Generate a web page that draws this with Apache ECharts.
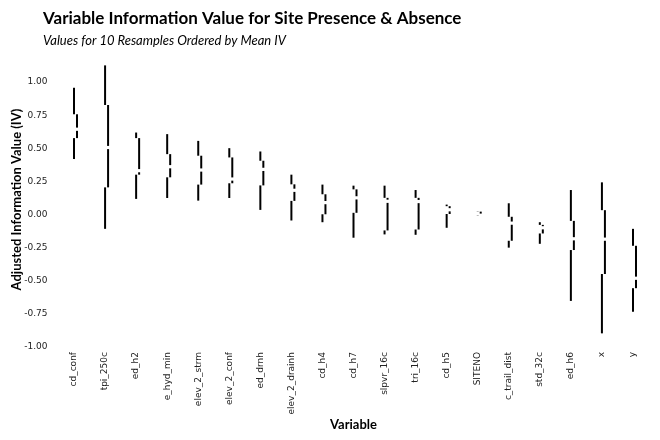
<!DOCTYPE html>
<html>
<head>
<meta charset="utf-8">
<script src="https://cdn.jsdelivr.net/npm/echarts@6/dist/echarts.min.js"></script>
<style>
  html, body { margin: 0; padding: 0; background: #fff; }
  #chart { width: 660px; height: 440px; }
</style>
</head>
<body>
<div id="chart"></div>
<script>
// variables ordered by mean IV
var variables = ['cd_conf', 'tpi_250c', 'ed_h2', 'e_hyd_min', 'elev_2_strm', 'elev_2_conf', 'ed_drnh',
  'elev_2_drainh', 'cd_h4', 'cd_h7', 'slpvr_16c', 'tri_16c', 'cd_h5', 'SITENO', 'c_trail_dist',
  'std_32c', 'ed_h6', 'x', 'y'];
// five number summary of the 10 resamples
var ivMin    = [0.419, -0.108, 0.118, 0.125, 0.105, 0.125, 0.035, -0.045, -0.058, -0.175, -0.150, -0.153, -0.100, -0.009, -0.250, -0.221, -0.652, -0.897, -0.734];
var ivQ1     = [0.577, 0.205, 0.301, 0.281, 0.226, 0.236, 0.220, 0.103, 0.002, 0.013, -0.120, -0.113, 0.004, -0.007, -0.198, -0.143, -0.268, -0.449, -0.556];
var ivMedian = [0.644, 0.506, 0.331, 0.361, 0.336, 0.268, 0.341, 0.183, 0.090, 0.126, 0.100, 0.098, 0.036, -0.005, -0.065, -0.100, -0.183, -0.186, -0.481];
var ivQ3     = [0.757, 0.827, 0.577, 0.456, 0.444, 0.431, 0.406, 0.228, 0.153, 0.190, 0.126, 0.126, 0.063, 0.022, -0.017, -0.078, -0.048, 0.033, -0.236];
var ivMax    = [0.957, 1.126, 0.619, 0.607, 0.556, 0.501, 0.476, 0.301, 0.226, 0.218, 0.218, 0.185, 0.075, 0.024, 0.085, -0.058, 0.185, 0.243, -0.108];

var data = variables.map(function (v, i) {
  return [i, ivMin[i], ivQ1[i], ivMedian[i], ivQ3[i], ivMax[i]];
});

var chart = echarts.init(document.getElementById('chart'));

// tufte style box: whiskers on the center, box offset to the right, gap at median
function renderTufte(params, api) {
  var i = api.value(0);
  var pMin = api.coord([i, api.value(1)]);
  var pQ1 = api.coord([i, api.value(2)]);
  var pMed = api.coord([i, api.value(3)]);
  var pQ3 = api.coord([i, api.value(4)]);
  var pMax = api.coord([i, api.value(5)]);
  var x = pMed[0];
  var xo = x + 3;
  var gap = 1.6;
  var st = { stroke: '#000', lineWidth: 2 };
  return {
    type: 'group',
    children: [
      { type: 'line', shape: { x1: x, y1: pMax[1], x2: x, y2: pQ3[1] }, style: st },
      { type: 'line', shape: { x1: xo, y1: pQ3[1], x2: xo, y2: Math.max(pQ3[1], pMed[1] - gap) }, style: st },
      { type: 'line', shape: { x1: xo, y1: Math.min(pQ1[1], pMed[1] + gap), x2: xo, y2: pQ1[1] }, style: st },
      { type: 'line', shape: { x1: x, y1: pQ1[1], x2: x, y2: pMin[1] }, style: st }
    ]
  };
}

var option = {
  backgroundColor: '#fff',
  animation: false,
  title: {
    text: 'Variable Information Value for Site Presence & Absence',
    subtext: 'Values for 10 Resamples Ordered by Mean IV',
    left: 38,
    top: 5,
    itemGap: 7,
    textStyle: { fontFamily: 'Lato', fontSize: 17, fontWeight: 'bold', color: '#000' },
    subtextStyle: { fontFamily: 'Lato', fontSize: 13, fontStyle: 'italic', color: '#000' }
  },
  grid: { left: 58.5, right: 11.5, top: 52, bottom: 93, outerBoundsMode: 'none' },
  xAxis: {
    type: 'category',
    data: variables,
    name: 'Variable',
    nameLocation: 'middle',
    nameGap: 71,
    nameMoveOverlap: false,
    nameTextStyle: { fontFamily: 'Lato', fontSize: 13, fontWeight: 'bold', color: '#000' },
    axisLine: { show: false },
    axisTick: { show: false },
    axisLabel: { rotate: 90, margin: 5, fontFamily: 'DejaVu Sans', fontSize: 9, color: '#222', interval: 0 }
  },
  yAxis: {
    type: 'value',
    min: -1,
    max: 1.227,
    interval: 0.25,
    name: 'Adjusted Information Value (IV)',
    nameLocation: 'middle',
    nameRotate: 90,
    nameGap: 35,
    nameMoveOverlap: false,
    nameTextStyle: { fontFamily: 'Lato', fontSize: 13, fontWeight: 'bold', color: '#000' },
    axisLine: { show: false },
    axisTick: { show: false },
    splitLine: { show: false },
    axisLabel: {
      showMaxLabel: false,
      margin: 11,
      fontFamily: 'DejaVu Sans', fontSize: 9, color: '#222',
      formatter: function (v) { return v.toFixed(2); }
    }
  },
  series: [{
    type: 'custom',
    renderItem: renderTufte,
    encode: { x: 0, y: [1, 2, 3, 4, 5] },
    data: data
  }]
};

chart.setOption(option);
</script>
</body>
</html>
